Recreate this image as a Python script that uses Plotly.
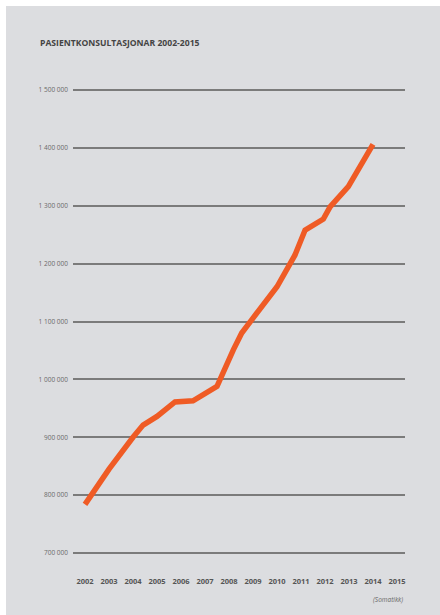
import plotly.graph_objects as go

# Data (fractional years mark kinks in the line)
years = [2002.0, 2003.0, 2004.0, 2004.42, 2005.0, 2005.75, 2006.5, 2007.5,
         2008.18, 2008.53, 2009.0, 2010.0, 2010.75, 2011.17, 2011.93,
         2012.21, 2012.97, 2014.0]
values = [784000, 845000, 900000, 921000, 936000, 961000, 963000, 988000,
          1051000, 1080000, 1106000, 1160000, 1215000, 1258000, 1277000,
          1298000, 1333000, 1406000]

x_ticks = list(range(2002, 2016))
x_labels = [str(y) for y in x_ticks]
y_ticks = [700000, 800000, 900000, 1000000, 1100000, 1200000, 1300000, 1400000, 1500000]
y_labels = ["700 000", "800 000", "900 000", "1 000 000", "1 100 000",
            "1 200 000", "1 300 000", "1 400 000", "1 500 000"]

title_text = "PASIENTKONSULTASJONAR 2002-2015"
note_text = "(Somatikk)"

W, H = 440, 615
L, R = 73, 405
T, B = 80, 563
pw, ph = R - L, B - T

def px_x(p):
    return (p - L) / pw

def px_y(p):
    return (B - p) / ph

GRAY = "#dcdde0"
ORANGE = "#ef5b25"

fig = go.Figure()
fig.add_trace(go.Scatter(
    x=years, y=values, mode="lines",
    line=dict(color=ORANGE, width=5.5),
    hoverinfo="skip", showlegend=False,
))

fig.update_layout(
    width=W, height=H,
    margin=dict(l=L, r=W - R, t=T, b=H - B, pad=0),
    paper_bgcolor="white",
    plot_bgcolor=GRAY,
    font=dict(family="Open Sans", color="#666"),
    showlegend=False,
    xaxis=dict(
        range=[2001.5, 2015.3333], tickvals=x_ticks, ticktext=x_labels,
        showgrid=False, zeroline=False, showline=False, ticks="",
        tickfont=dict(family="Open Sans", size=7.5, color="#555", weight="bold"),
        ticklabelstandoff=12,
    ),
    yaxis=dict(
        range=[682721, 1517279], tickvals=y_ticks, ticktext=y_labels,
        showgrid=True, gridcolor="#7b7b7b", gridwidth=1.5,
        zeroline=False, showline=False, ticks="",
        tickfont=dict(family="Open Sans", size=6.5, color="#6a6a6a"),
        ticklabelstandoff=4,
    ),
    shapes=[dict(
        type="rect", xref="paper", yref="paper",
        x0=px_x(6), x1=px_x(441), y0=px_y(616), y1=px_y(6),
        fillcolor=GRAY, line=dict(width=0), layer="below",
    )],
    annotations=[
        dict(text=title_text, xref="paper", yref="paper",
             x=px_x(38), y=px_y(43), xanchor="left", yanchor="middle",
             showarrow=False,
             font=dict(family="Open Sans", size=8.6, color="#444", weight="bold")),
        dict(text="<i>" + note_text + "</i>", xref="paper", yref="paper",
             x=1.0, y=px_y(599), xanchor="right", yanchor="middle",
             showarrow=False,
             font=dict(family="Open Sans", size=6.5, color="#6a6a6a")),
    ],
)

fig.write_html("out.html")
